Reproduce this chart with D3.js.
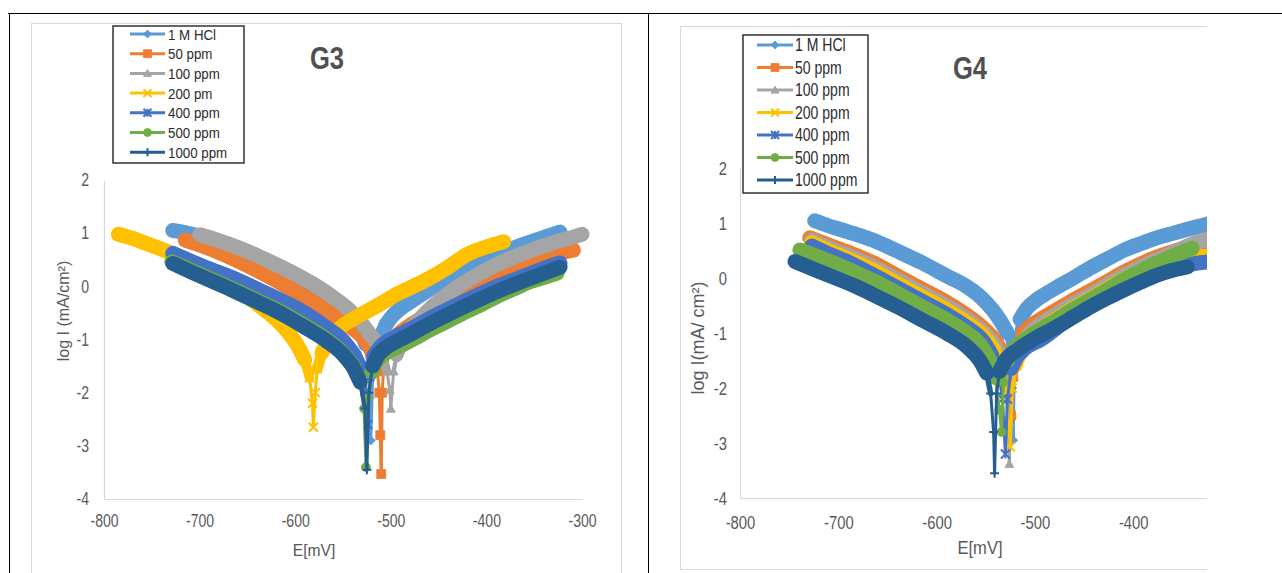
<!DOCTYPE html>
<html>
<head>
<meta charset="utf-8">
<script src="https://cdn.jsdelivr.net/npm/d3@7"></script>
<style>
  body { margin: 0; background: #fff; }
  svg { display: block; font-family: "Liberation Sans", Arial, sans-serif; }
</style>
</head>
<body>
<svg id="chart" width="1282" height="573"></svg>
<script>
// axis ticks
const xTicks = [-800, -700, -600, -500, -400, -300];
const yTicks = [-4, -3, -2, -1, 0, 1, 2];

// legend labels (G3 has the "200 pm" typo)
const g3Labels = ["1 M HCl", "50 ppm", "100 ppm", "200 pm", "400 ppm", "500 ppm", "1000 ppm"];
const g4Labels = ["1 M HCl", "50 ppm", "100 ppm", "200 ppm", "400 ppm", "500 ppm", "1000 ppm"];
const seriesColors = ["#5B9BD5", "#ED7D31", "#A5A5A5", "#FFC000", "#4472C4", "#70AD47", "#255E91"];
const seriesMarkers = ["diamond", "square", "triangle", "x", "star", "circle", "plus"];

// G3 : [E (mV), log I]
const g3Hcl = [[-728,1.05],[-718,1.02],[-706,0.97],[-690,0.87],[-670,0.74],[-650,0.6],[-630,0.44],[-610,0.26],[-590,0.06],[-572,-0.14],[-556,-0.36],[-543,-0.58],[-533,-0.82],[-527,-1.1],[-524,-1.45],[-522,-2.1],[-521,-2.9],[-519,-1.7],[-516,-1.25],[-511,-0.95],[-505,-0.72],[-498,-0.55],[-490,-0.42],[-475,-0.24],[-459,-0.05],[-440,0.16],[-424,0.33],[-405,0.48],[-389,0.6],[-370,0.73],[-354,0.83],[-338,0.93],[-323,1.02]];
const g3P50 = [[-715,0.87],[-700,0.78],[-680,0.64],[-665,0.52],[-640,0.3],[-613,0.04],[-590,-0.2],[-567,-0.45],[-550,-0.66],[-535,-0.86],[-525,-1.05],[-518,-1.3],[-514,-1.6],[-512,-2.0],[-511,-2.8],[-510,-3.53],[-509,-2.0],[-507,-1.4],[-503,-1.12],[-497,-0.98],[-488,-0.84],[-477,-0.7],[-459,-0.52],[-440,-0.31],[-424,-0.14],[-405,0.03],[-389,0.17],[-370,0.32],[-354,0.44],[-338,0.55],[-323,0.63],[-309,0.68]];
const g3P100 = [[-700,0.97],[-680,0.86],[-660,0.73],[-640,0.58],[-620,0.41],[-600,0.23],[-580,0.03],[-560,-0.21],[-545,-0.42],[-532,-0.66],[-522,-0.9],[-514,-1.07],[-508,-1.3],[-504,-1.6],[-501,-1.95],[-500,-2.3],[-497,-1.6],[-494,-1.3],[-489,-1.08],[-480,-0.82],[-470,-0.62],[-459,-0.42],[-440,-0.14],[-424,0.06],[-405,0.26],[-389,0.41],[-370,0.56],[-354,0.67],[-338,0.77],[-323,0.86],[-310,0.92],[-300,0.98]];
const g3P200 = [[-785,0.98],[-770,0.9],[-755,0.8],[-740,0.7],[-729,0.62],[-710,0.45],[-690,0.26],[-675,0.1],[-665,-0.02],[-650,-0.2],[-635,-0.4],[-620,-0.62],[-608,-0.85],[-598,-1.1],[-590,-1.38],[-585,-1.72],[-582,-2.2],[-581,-2.65],[-579,-2.0],[-577,-1.55],[-572,-1.25],[-566,-1.05],[-560,-0.92],[-553,-0.78],[-540,-0.62],[-525,-0.47],[-511,-0.33],[-495,-0.16],[-480,-0.03],[-465,0.1],[-450,0.25],[-435,0.42],[-424,0.56],[-410,0.68],[-395,0.77],[-382,0.84]];
const g3P400 = [[-728,0.62],[-710,0.48],[-690,0.33],[-665,0.16],[-640,-0.05],[-613,-0.28],[-590,-0.5],[-567,-0.78],[-550,-1.02],[-538,-1.3],[-530,-1.6],[-526,-2.0],[-524,-2.6],[-522,-1.7],[-518,-1.32],[-510,-1.12],[-500,-1.0],[-490,-0.9],[-475,-0.76],[-459,-0.6],[-440,-0.43],[-424,-0.29],[-405,-0.13],[-389,0.0],[-370,0.13],[-354,0.24],[-338,0.35],[-323,0.44]];
const g3P500 = [[-729,0.46],[-710,0.31],[-690,0.15],[-665,-0.05],[-640,-0.26],[-613,-0.5],[-590,-0.74],[-567,-1.0],[-550,-1.26],[-539,-1.5],[-532,-1.82],[-528,-2.3],[-526,-3.4],[-524,-2.1],[-520,-1.6],[-514,-1.38],[-505,-1.25],[-490,-1.12],[-475,-0.98],[-459,-0.82],[-440,-0.65],[-424,-0.5],[-405,-0.34],[-389,-0.19],[-370,-0.04],[-354,0.09],[-338,0.18],[-326,0.25]];
const g3P1000 = [[-728,0.43],[-710,0.28],[-690,0.12],[-665,-0.08],[-640,-0.29],[-613,-0.53],[-590,-0.77],[-567,-1.03],[-550,-1.28],[-540,-1.5],[-532,-1.8],[-527,-2.3],[-525,-3.45],[-523,-2.0],[-519,-1.5],[-513,-1.28],[-505,-1.15],[-490,-1.0],[-475,-0.86],[-459,-0.7],[-440,-0.53],[-424,-0.39],[-405,-0.23],[-389,-0.1],[-370,0.04],[-354,0.15],[-338,0.26],[-323,0.36]];

// G4 : [E (mV), log I]
const g4Hcl = [[-724,1.04],[-710,0.95],[-690,0.84],[-665,0.69],[-640,0.49],[-614,0.27],[-590,0.04],[-569,-0.16],[-555,-0.35],[-543,-0.58],[-535,-0.78],[-528,-1.0],[-525,-1.25],[-523,-2.0],[-522,-2.95],[-521,-1.6],[-519,-1.1],[-515,-0.75],[-508,-0.55],[-500,-0.42],[-490,-0.3],[-478,-0.17],[-460,0.01],[-444,0.18],[-425,0.36],[-410,0.5],[-390,0.64],[-376,0.73],[-358,0.82],[-342,0.9],[-325,0.98],[-315,1.04]];
const g4P50 = [[-729,0.73],[-710,0.6],[-690,0.47],[-665,0.28],[-640,0.04],[-614,-0.21],[-590,-0.44],[-569,-0.68],[-552,-0.92],[-540,-1.15],[-531,-1.45],[-527,-1.85],[-524,-2.5],[-522,-1.8],[-518,-1.3],[-512,-1.0],[-500,-0.82],[-478,-0.58],[-460,-0.39],[-444,-0.24],[-425,-0.05],[-410,0.1],[-393,0.25],[-376,0.38],[-358,0.49],[-340,0.58],[-320,0.63]];
const g4P100 = [[-727,0.69],[-710,0.55],[-690,0.41],[-665,0.21],[-640,-0.03],[-614,-0.28],[-590,-0.51],[-569,-0.75],[-552,-0.99],[-541,-1.22],[-533,-1.5],[-529,-1.9],[-527,-2.6],[-526,-3.38],[-524,-2.0],[-520,-1.5],[-515,-1.25],[-508,-1.06],[-500,-0.92],[-478,-0.66],[-460,-0.46],[-444,-0.31],[-425,-0.11],[-410,0.04],[-393,0.19],[-376,0.33],[-358,0.47],[-340,0.62],[-320,0.72]];
const g4P200 = [[-727,0.64],[-710,0.5],[-690,0.35],[-665,0.14],[-640,-0.1],[-614,-0.35],[-590,-0.58],[-569,-0.82],[-552,-1.06],[-542,-1.3],[-535,-1.58],[-530,-2.0],[-527,-2.6],[-525,-3.07],[-523,-2.0],[-519,-1.6],[-514,-1.35],[-507,-1.15],[-500,-1.02],[-478,-0.74],[-460,-0.54],[-444,-0.38],[-425,-0.18],[-410,-0.03],[-393,0.12],[-376,0.24],[-358,0.32],[-340,0.37],[-320,0.4]];
const g4P400 = [[-727,0.58],[-710,0.44],[-690,0.29],[-665,0.06],[-640,-0.18],[-614,-0.43],[-590,-0.66],[-569,-0.9],[-553,-1.14],[-544,-1.4],[-537,-1.7],[-533,-2.2],[-530,-3.2],[-528,-2.2],[-524,-1.65],[-518,-1.42],[-508,-1.25],[-495,-1.13],[-470,-0.8],[-444,-0.47],[-420,-0.2],[-393,0.02],[-370,0.14],[-350,0.22],[-335,0.27],[-320,0.3]];
const g4P500 = [[-739,0.51],[-720,0.38],[-700,0.24],[-680,0.08],[-665,-0.04],[-640,-0.28],[-614,-0.53],[-590,-0.76],[-569,-1.0],[-556,-1.2],[-546,-1.49],[-540,-1.85],[-536,-2.4],[-534,-2.8],[-532,-1.9],[-528,-1.5],[-520,-1.27],[-512,-1.15],[-500,-1.0],[-478,-0.76],[-460,-0.56],[-444,-0.4],[-425,-0.2],[-410,-0.04],[-393,0.12],[-376,0.27],[-358,0.41],[-340,0.54]];
const g4P1000 = [[-744,0.3],[-725,0.16],[-700,-0.02],[-680,-0.17],[-665,-0.3],[-640,-0.52],[-614,-0.77],[-590,-1.0],[-569,-1.25],[-556,-1.5],[-549,-1.73],[-545,-2.1],[-542,-2.8],[-541,-3.55],[-539,-2.1],[-536,-1.7],[-530,-1.5],[-518,-1.31],[-500,-1.1],[-478,-0.89],[-460,-0.7],[-444,-0.53],[-425,-0.35],[-410,-0.22],[-393,-0.08],[-376,0.05],[-360,0.14],[-345,0.2]];

const svg = d3.select("#chart");
const textColor = "#595959";

// table borders
svg.append("line").attr("x1", 8).attr("x2", 1282).attr("y1", 13.5).attr("y2", 13.5).attr("stroke", "#000");
svg.append("line").attr("x1", 9.5).attr("x2", 9.5).attr("y1", 13).attr("y2", 573).attr("stroke", "#000");
svg.append("line").attr("x1", 648.5).attr("x2", 648.5).attr("y1", 13).attr("y2", 573).attr("stroke", "#000");

function markerPath(type, r) {
  switch (type) {
    case "diamond": return `M0,${-r}L${r},0L0,${r}L${-r},0Z`;
    case "square": return `M${-r},${-r}H${r}V${r}H${-r}Z`;
    case "triangle": return `M0,${-r}L${r},${r * 0.8}L${-r},${r * 0.8}Z`;
    case "circle": return d3.symbol(d3.symbolCircle, Math.PI * r * r)();
    case "x": return `M${-r},${-r}L${r},${r}M${r},${-r}L${-r},${r}`;
    case "star": return `M${-r},${-r}L${r},${r}M${r},${-r}L${-r},${r}M0,${-r}L0,${r}`;
    case "plus": return `M${-r},0H${r}M0,${-r}V${r}`;
  }
}
const strokeMarkers = ["x", "star", "plus"];

function drawMarker(g, x, y, type, color, r) {
  const open = strokeMarkers.includes(type);
  g.append("path")
    .attr("transform", `translate(${x},${y})`)
    .attr("d", markerPath(type, r))
    .attr("fill", open ? "none" : color)
    .attr("stroke", color)
    .attr("stroke-width", open ? 2 : 0.8);
}

// dense measured points overlap into a wide band; on the steep part near
// the corrosion potential they separate into a thin line with markers
function drawSeries(g, data, color, type, x, y, band) {
  const pts = data.map(d => [x(d[0]), y(d[1])]);
  const widths = [];
  for (let i = 0; i < pts.length - 1; i++) {
    const dx = Math.abs(pts[i + 1][0] - pts[i][0]);
    const dy = Math.abs(pts[i + 1][1] - pts[i][1]);
    const s = dy / Math.max(dx, 0.01);
    widths.push(s <= 2 ? band : s >= 6 ? 3 : band - (band - 3) * (s - 2) / 4);
  }
  const line = d3.line().curve(d3.curveMonotoneX);
  // wide stretches as smooth runs, steep pieces one segment at a time
  let run = null;
  const runs = [];
  widths.forEach((w, i) => {
    if (w === band) {
      if (!run) { run = [pts[i]]; runs.push(run); }
      run.push(pts[i + 1]);
    } else {
      run = null;
    }
  });
  runs.forEach(r => {
    g.append("path")
      .attr("d", line(r)).attr("fill", "none").attr("stroke", color)
      .attr("stroke-width", band).attr("stroke-linecap", "round").attr("stroke-linejoin", "round");
  });
  widths.forEach((w, i) => {
    if (w === band) return;
    g.append("line")
      .attr("x1", pts[i][0]).attr("y1", pts[i][1]).attr("x2", pts[i + 1][0]).attr("y2", pts[i + 1][1])
      .attr("stroke", color).attr("stroke-width", w).attr("stroke-linecap", "round");
  });
  pts.forEach((p, i) => {
    const wl = i > 0 ? widths[i - 1] : band;
    const wr = i < widths.length ? widths[i] : band;
    if (Math.min(wl, wr) < 6) drawMarker(g, p[0], p[1], type, color, 4.5);
  });
}

function drawPanel(cfg) {
  const g = svg.append("g");
  if (cfg.clipRight) {
    svg.append("clipPath").attr("id", cfg.id + "clip")
      .append("rect").attr("x", 649).attr("y", 14).attr("width", cfg.clipRight - 649).attr("height", 560);
    g.attr("clip-path", `url(#${cfg.id}clip)`);
  }

  // chart area
  g.append("rect")
    .attr("x", cfg.area[0]).attr("y", cfg.area[1])
    .attr("width", cfg.area[2]).attr("height", cfg.area[3])
    .attr("fill", "#fff").attr("stroke", "#d9d9d9");

  const x = d3.scaleLinear().domain([-800, -300]).range(cfg.xRange);
  const y = d3.scaleLinear().domain([-4, 2]).range(cfg.yRange);
  const sx = cfg.tickScale;
  const fmt = d => String(d);

  const xAxis = g.append("g").attr("transform", `translate(0,${cfg.yRange[0]})`)
    .call(d3.axisBottom(x).tickValues(xTicks).tickSize(0).tickSizeOuter(0).tickPadding(cfg.xPad).tickFormat(fmt));
  const yAxis = g.append("g").attr("transform", `translate(${cfg.xRange[0]},0)`)
    .call(d3.axisLeft(y).tickValues(yTicks).tickSize(0).tickSizeOuter(0).tickPadding(cfg.yPad / sx).tickFormat(fmt));
  [xAxis, yAxis].forEach(a => {
    a.select(".domain").attr("stroke", "#d9d9d9").attr("stroke-width", 1.2);
    a.selectAll("text")
      .attr("fill", textColor)
      .attr("transform", `scale(${sx},1)`)
      .style("font-size", cfg.tickFs + "px")
      .style("font-family", "'Liberation Sans', Arial, sans-serif");
  });

  // axis titles
  g.append("text")
    .attr("transform", `translate(${cfg.xTitle[0]},${cfg.xTitle[1]}) scale(0.92,1)`)
    .attr("text-anchor", "middle")
    .attr("fill", textColor)
    .style("font-size", cfg.xTitle[2] + "px")
    .text("E[mV]");
  g.append("text")
    .attr("transform", `translate(${cfg.yTitle[0]},${cfg.yTitle[1]}) rotate(-90)`)
    .attr("text-anchor", "middle")
    .attr("dy", "0.35em")
    .attr("fill", textColor)
    .style("font-size", cfg.yTitle[2] + "px")
    .text(cfg.yTitleText);

  // series
  const plot = g.append("g");
  cfg.data.forEach((d, i) => drawSeries(plot, d, seriesColors[i], seriesMarkers[i], x, y, cfg.band));

  // title
  g.append("text")
    .attr("transform", `translate(${cfg.title[0]},${cfg.title[1]}) scale(0.8,1)`)
    .attr("text-anchor", "middle")
    .attr("fill", "#505050")
    .style("font-size", cfg.title[2] + "px")
    .style("font-weight", "bold")
    .text(cfg.titleText);

  // legend
  const L = cfg.legend;
  const lg = g.append("g");
  lg.append("rect")
    .attr("x", L.x).attr("y", L.y).attr("width", L.w).attr("height", L.h)
    .attr("fill", "#fff").attr("stroke", "#333").attr("stroke-width", 1.5);
  cfg.labels.forEach((name, i) => {
    const ry = L.row0 + i * L.step;
    lg.append("line")
      .attr("x1", L.line[0]).attr("x2", L.line[1]).attr("y1", ry).attr("y2", ry)
      .attr("stroke", seriesColors[i]).attr("stroke-width", 3);
    drawMarker(lg, (L.line[0] + L.line[1]) / 2, ry, seriesMarkers[i], seriesColors[i], 4);
    lg.append("text")
      .attr("transform", `translate(${L.textX},${ry}) scale(${L.sx},1)`)
      .attr("dy", "0.36em")
      .attr("fill", "#2b2b2b")
      .style("font-size", L.fs + "px")
      .text(name);
  });
}

drawPanel({
  id: "g3", titleText: "G3", labels: g3Labels,
  data: [g3Hcl, g3P50, g3P100, g3P200, g3P400, g3P500, g3P1000],
  area: [31.5, 23.5, 590, 570],
  xRange: [104, 582], yRange: [499, 180],
  tickFs: 18, tickScale: 0.78, xPad: 15, yPad: 15,
  xTitle: [314, 556, 17], yTitle: [63, 311, 16], yTitleText: "log I (mA/cm²)",
  title: [327, 69, 32],
  band: 15,
  legend: { x: 113, y: 26, w: 131, h: 137, row0: 34, step: 19.7, line: [130, 165], textX: 168, fs: 15.5, sx: 0.86 }
});

drawPanel({
  id: "g4", titleText: "G4", labels: g4Labels,
  data: [g4Hcl, g4P50, g4P100, g4P200, g4P400, g4P500, g4P1000],
  area: [680.5, 26.5, 600, 543],
  xRange: [740, 1231.5], yRange: [498, 168],
  tickFs: 19, tickScale: 0.78, xPad: 18, yPad: 13,
  xTitle: [980, 554, 18], yTitle: [698, 338, 18], yTitleText: "log I(mA/ cm²)",
  title: [970, 79, 32],
  band: 15,
  clipRight: 1207,
  legend: { x: 743, y: 35, w: 125, h: 158, row0: 45, step: 22.5, line: [757, 793], textX: 795, fs: 18, sx: 0.78 }
});
</script>
</body>
</html>
